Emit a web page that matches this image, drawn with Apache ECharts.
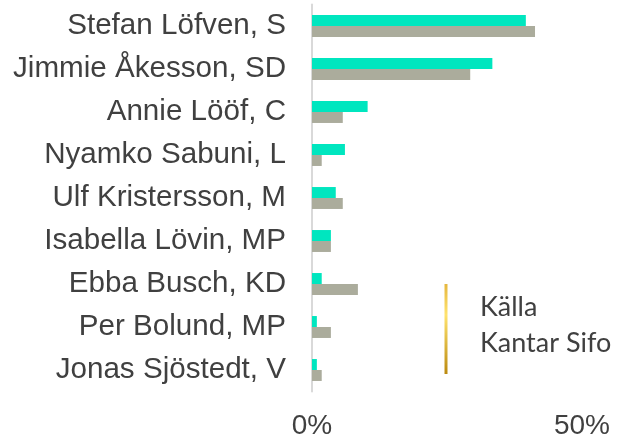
<!DOCTYPE html>
<html>
<head>
<meta charset="utf-8">
<script src="https://cdn.jsdelivr.net/npm/echarts@6/dist/echarts.min.js"></script>
<style>
  html, body { margin: 0; padding: 0; background: #fff; }
  #chart { width: 624px; height: 441px; }
</style>
</head>
<body>
<div id="chart"></div>
<script>
// --- data ---
const categories = [
  "Stefan Löfven, S",
  "Jimmie Åkesson, SD",
  "Annie Lööf, C",
  "Nyamko Sabuni, L",
  "Ulf Kristersson, M",
  "Isabella Lövin, MP",
  "Ebba Busch, KD",
  "Per Bolund, MP",
  "Jonas Sjöstedt, V",
];
const seriesNew = [39.6, 33.4, 10.3, 6.1, 4.4, 3.5, 1.8, 0.9, 0.9];
const seriesOld = [41.3, 29.3, 5.7, 1.8, 5.7, 3.5, 8.5, 3.5, 1.8];
const xTicks = [0, 50];
const sourceLines = ["Källa", "Kantar Sifo"];

const chart = echarts.init(document.getElementById("chart"));

const option = {
  backgroundColor: "#ffffff",
  animation: false,
  grid: {
    left: 312,
    right: 42,
    top: 4.5,
    bottom: 49.5,
  },
  xAxis: {
    type: "value",
    min: xTicks[0],
    max: xTicks[xTicks.length - 1],
    interval: xTicks[1] - xTicks[0],
    splitLine: { show: false },
    axisLine: { show: false },
    axisTick: { show: false },
    axisLabel: {
      formatter: "{value}%",
      color: "#404040",
      fontFamily: "Liberation Sans",
      fontSize: 28,
      margin: 21,
    },
  },
  yAxis: {
    type: "category",
    inverse: true,
    data: categories,
    axisTick: { show: false },
    axisLine: {
      lineStyle: { color: "#d9d9d9", width: 2 },
    },
    axisLabel: {
      color: "#404040",
      fontFamily: "Liberation Sans",
      fontSize: 29.6,
      margin: 26,
    },
  },
  series: [
    {
      name: "new",
      type: "bar",
      data: seriesNew,
      barGap: "0%",
      barCategoryGap: "49%",
      itemStyle: { color: "#00e6bf" },
    },
    {
      name: "old",
      type: "bar",
      data: seriesOld,
      barGap: "0%",
      barCategoryGap: "49%",
      itemStyle: { color: "#abac9c" },
    },
  ],
  graphic: [
    {
      type: "line",
      shape: { x1: 446, y1: 284, x2: 446, y2: 374 },
      style: {
        lineWidth: 3,
        stroke: new echarts.graphic.LinearGradient(0, 0, 0, 1, [
          { offset: 0, color: "#e3b33a" },
          { offset: 0.35, color: "#ffe36e" },
          { offset: 1, color: "#b8860b" },
        ]),
      },
    },
    {
      type: "text",
      left: 480,
      top: 294,
      style: {
        text: sourceLines[0],
        fill: "#404040",
        font: "27px Lato",
      },
    },
    {
      type: "text",
      left: 480,
      top: 330,
      style: {
        text: sourceLines[1],
        fill: "#404040",
        font: "27px Lato",
      },
    },
  ],
};

chart.setOption(option);
window.addEventListener("resize", () => chart.resize());
</script>
</body>
</html>
